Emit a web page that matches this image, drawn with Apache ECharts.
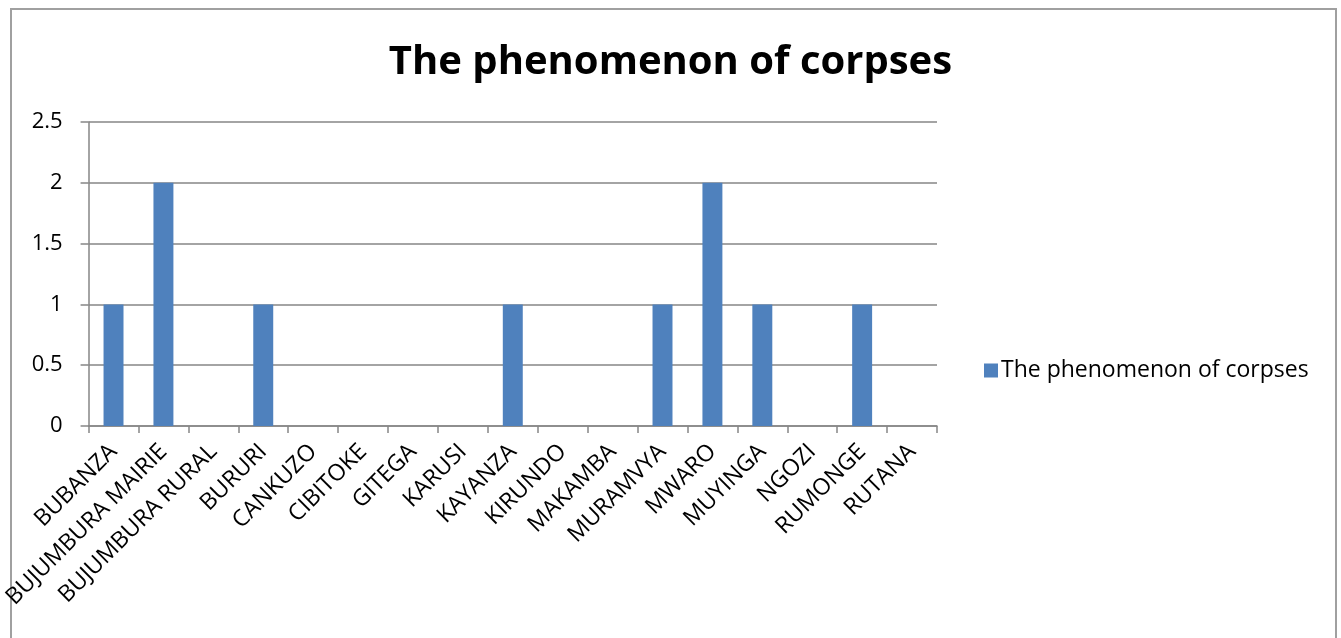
<!DOCTYPE html>
<html><head><meta charset="utf-8">
<script src="https://cdn.jsdelivr.net/npm/echarts@6/dist/echarts.min.js"></script>
<style>html,body{margin:0;padding:0;background:#fff}#c{width:1341px;height:638px}</style>
</head><body><div id="c"></div>
<script>
const title = "The phenomenon of corpses";
const seriesName = "The phenomenon of corpses";
const categories = ["BUBANZA","BUJUMBURA MAIRIE","BUJUMBURA RURAL","BURURI","CANKUZO","CIBITOKE","GITEGA","KARUSI","KAYANZA","KIRUNDO","MAKAMBA","MURAMVYA","MWARO","MUYINGA","NGOZI","RUMONGE","RUTANA"];
const values = [1,2,0,1,0,0,0,0,1,0,0,1,2,1,0,1,0];
const yTicks = {min:0, max:2.5, interval:0.5};

const chart = echarts.init(document.getElementById('c'), null, {renderer:'canvas'});
const font = "'Open Sans', sans-serif";
chart.setOption({
  animation:false,
  backgroundColor:'#fff',
  graphic:[{type:'rect', shape:{x:11,y:9,width:1325,height:700}, style:{fill:'none', stroke:'#a0a0a0', lineWidth:2}, silent:true}],
  title:{text:title, left:'center', top:38,
    textStyle:{fontFamily:font, fontWeight:'bold', fontSize:40, color:'#000'}},
  legend:{show:true, left:979, top:354, itemWidth:14, itemHeight:14, icon:'rect', itemGap:6,
    textStyle:{fontFamily:font, fontSize:23, color:'#000', padding:[0,0,0,-2]}},
  grid:{left:88, top:122, width:849, height:304, containLabel:false},
  xAxis:{type:'category', data:categories,
    axisLine:{lineStyle:{color:'#868686', width:1.5}},
    axisTick:{show:true, length:7, lineStyle:{color:'#868686', width:1.5}, alignWithLabel:false},
    axisLabel:{rotate:45, interval:0, fontFamily:font, fontSize:23, color:'#000', margin:22}},
  yAxis:{type:'value', min:yTicks.min, max:yTicks.max, interval:yTicks.interval,
    axisLine:{show:true, lineStyle:{color:'#868686', width:1.5}},
    axisTick:{show:true, length:8, lineStyle:{color:'#868686', width:1.5}},
    splitLine:{show:true, lineStyle:{color:'#868686', width:1.5}},
    axisLabel:{fontFamily:font, fontSize:22, color:'#000', margin:26}},
  series:[{type:'bar', name:seriesName, data:values, barWidth:'40%',
    itemStyle:{color:'#4f81bd'}}]
});
</script></body></html>
